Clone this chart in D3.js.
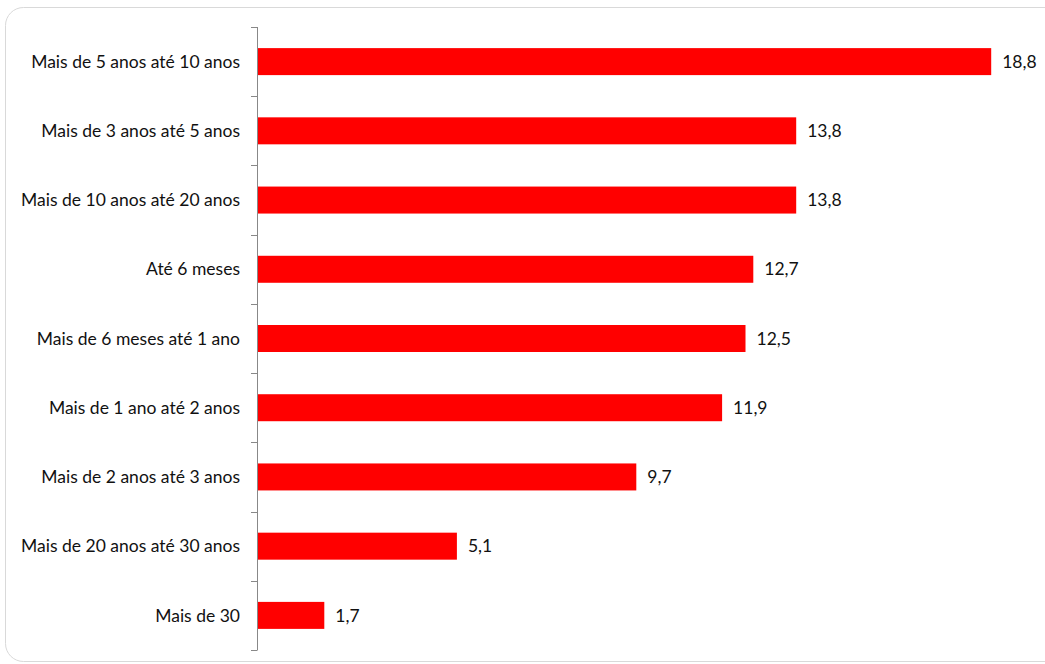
<!DOCTYPE html>
<html><head><meta charset="utf-8">
<script src="https://cdn.jsdelivr.net/npm/d3@7"></script>
<style>body{margin:0;background:#fff}svg{display:block}</style>
</head><body>
<svg id="c" width="1045" height="664"></svg>
<script>
const categories = ["Mais de 5 anos até 10 anos","Mais de 3 anos até 5 anos","Mais de 10 anos até 20 anos","Até 6 meses","Mais de 6 meses até 1 ano","Mais de 1 ano até 2 anos","Mais de 2 anos até 3 anos","Mais de 20 anos até 30 anos","Mais de 30"];
const values = [18.8,13.8,13.8,12.7,12.5,11.9,9.7,5.1,1.7];
const valueLabels = ["18,8","13,8","13,8","12,7","12,5","11,9","9,7","5,1","1,7"];

const svg = d3.select("#c");
const font = "Lato, 'Open Sans', sans-serif";
svg.append("rect").attr("x",5.5).attr("y",7.5).attr("width",1060).attr("height",654)
  .attr("rx",18).attr("fill","#fff").attr("stroke","#d9d9d9").attr("stroke-width",1);

const x = d3.scaleLinear().domain([0,20]).range([258,1038]);
const y = d3.scaleBand().domain(categories).range([27,650]).paddingInner(0.61).paddingOuter(0.305);
const yb = d3.scaleBand().domain(categories).range([27,650]);

svg.selectAll("rect.bar").data(values).join("rect").attr("class","bar")
  .attr("x",x(0)).attr("y",(d,i)=>y(categories[i]))
  .attr("width",d=>x(d)-x(0)).attr("height",y.bandwidth()).attr("fill","#ff0000");

// axis
const g = svg.append("g");
g.append("line").attr("x1",257.5).attr("x2",257.5).attr("y1",27).attr("y2",650).attr("stroke","#888");
const ticks = categories.map(c=>yb(c)).concat([650]);
g.selectAll("line.t").data(ticks).join("line").attr("class","t")
  .attr("x1",251).attr("x2",257.5).attr("y1",d=>Math.round(d)+0.5).attr("y2",d=>Math.round(d)+0.5).attr("stroke","#888");

svg.selectAll("text.cat").data(categories).join("text").attr("class","cat")
  .attr("x",240).attr("y",d=>yb(d)+yb.bandwidth()/2).attr("dy","0.35em")
  .attr("text-anchor","end").attr("font-family",font).attr("font-size",17.5).attr("fill","#111").text(d=>d);

svg.selectAll("text.val").data(values).join("text").attr("class","val")
  .attr("x",d=>x(d)+11).attr("y",(d,i)=>yb(categories[i])+yb.bandwidth()/2).attr("dy","0.35em")
  .attr("font-family",font).attr("font-size",17.5).attr("fill","#111").text((d,i)=>valueLabels[i]);
</script>
</body></html>
